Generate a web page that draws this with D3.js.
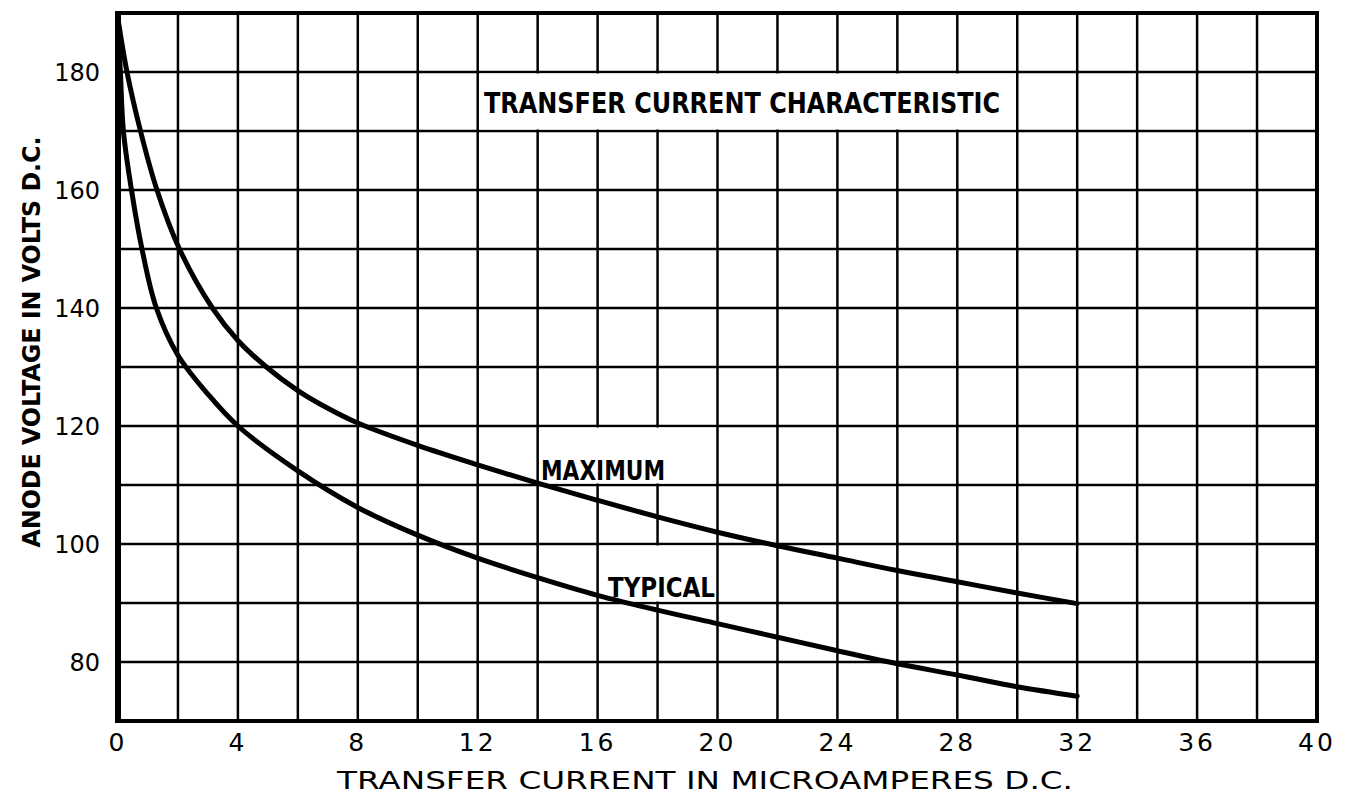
<!DOCTYPE html>
<html>
<head>
<meta charset="utf-8">
<script src="https://cdn.jsdelivr.net/npm/d3@7"></script>
<style>
  body { margin: 0; background: #fff; }
  text { font-family: "DejaVu Sans", "Liberation Sans", sans-serif; fill: #000; }
</style>
</head>
<body>
<div id="chart"></div>
<script>
// transfer current (uA) vs anode voltage (V)
const maxCurrent = [0, 0.3, 0.75, 1.3, 2.05, 3.15, 4, 4.95, 6, 7, 8, 10, 12, 14, 16, 18, 20, 22, 24, 26, 28, 30, 32];
const maxVolts   = [189, 180, 170, 160, 150, 140, 134.5, 130, 126, 123, 120.5, 116.7, 113.4, 110.3, 107.4, 104.6, 102, 99.7, 97.6, 95.5, 93.6, 91.7, 89.9];

const typCurrent = [0, 0.08, 0.18, 0.45, 0.8, 1.28, 2, 3, 4, 6, 8, 10, 12, 14, 16, 18, 20, 22, 24, 26, 28, 30, 32];
const typVolts   = [189, 180, 170, 160, 150, 140, 132, 125.4, 120, 112.4, 106.2, 101.5, 97.6, 94.3, 91.3, 88.8, 86.5, 84.2, 81.9, 79.7, 77.8, 75.8, 74.2];

const xTicks = [0, 4, 8, 12, 16, 20, 24, 28, 32, 36, 40];
const yTicks = [80, 100, 120, 140, 160, 180];

const w = 1358, h = 806;
const padL = 118, padR = 1317, padT = 13, padB = 721;

const svg = d3.select('#chart')
  .append('svg')
  .attr('width', w)
  .attr('height', h);

const x = d3.scaleLinear().domain([0, 40]).range([padL, padR]);
const y = d3.scaleLinear().domain([70, 190]).range([padB, padT]);

// grid
const grid = svg.append('g').attr('stroke', '#000').attr('stroke-width', 2.5);
grid.selectAll('.vx')
  .data(d3.range(2, 40, 2))
  .enter().append('line')
  .attr('x1', d => x(d)).attr('x2', d => x(d))
  .attr('y1', padT).attr('y2', padB);
grid.selectAll('.hy')
  .data(d3.range(80, 190, 10))
  .enter().append('line')
  .attr('x1', padL).attr('x2', padR)
  .attr('y1', d => y(d)).attr('y2', d => y(d));

// white label boxes that break the grid
const boxes = [
  { x0: 12, x1: 30, y0: 170, y1: 180 },
  { x0: 14, x1: 20, y0: 110, y1: 120 },
  { x0: 16, x1: 20, y0: 90, y1: 100 }
];
svg.append('g').selectAll('rect')
  .data(boxes)
  .enter().append('rect')
  .attr('x', d => x(d.x0) + 1.5)
  .attr('y', d => y(d.y1) + 1.5)
  .attr('width', d => x(d.x1) - x(d.x0) - 3)
  .attr('height', d => y(d.y0) - y(d.y1) - 3)
  .attr('fill', '#fff');

// frame
svg.append('rect')
  .attr('x', padL).attr('y', padT)
  .attr('width', padR - padL).attr('height', padB - padT)
  .attr('fill', 'none').attr('stroke', '#000').attr('stroke-width', 4);
svg.append('line')
  .attr('x1', padL).attr('x2', padL)
  .attr('y1', padT - 2).attr('y2', padB + 2)
  .attr('stroke', '#000').attr('stroke-width', 6);

// curves
const line = d3.line()
  .x(d => x(d[0]))
  .y(d => y(d[1]))
  .curve(d3.curveCatmullRom.alpha(0.5));

[[maxCurrent, maxVolts], [typCurrent, typVolts]].forEach(([xs, ys]) => {
  svg.append('path')
    .datum(d3.zip(xs, ys))
    .attr('d', line)
    .attr('fill', 'none')
    .attr('stroke', '#000')
    .attr('stroke-width', 5)
    .attr('stroke-linecap', 'round')
    .attr('stroke-linejoin', 'round');
});

// tick labels
svg.append('g').selectAll('text')
  .data(yTicks)
  .enter().append('text')
  .attr('x', padL - 18)
  .attr('y', d => y(d) + 9)
  .attr('text-anchor', 'end')
  .attr('font-size', 24)
  .text(d => d);

svg.append('g').selectAll('text')
  .data(xTicks)
  .enter().append('text')
  .attr('x', d => x(d))
  .attr('y', padB + 30)
  .attr('text-anchor', 'middle')
  .attr('font-size', 25)
  .attr('letter-spacing', 3)
  .text(d => d);

// axis titles
svg.append('text')
  .attr('x', 705).attr('y', 789)
  .attr('text-anchor', 'middle')
  .attr('font-size', 25)
  .attr('textLength', 736)
  .attr('lengthAdjust', 'spacingAndGlyphs')
  .text('TRANSFER CURRENT IN MICROAMPERES D.C.');

svg.append('text')
  .attr('transform', 'translate(40,342) rotate(-90)')
  .attr('text-anchor', 'middle')
  .attr('font-size', 25)
  .attr('font-weight', 'bold')
  .attr('textLength', 411)
  .attr('lengthAdjust', 'spacingAndGlyphs')
  .text('ANODE VOLTAGE IN VOLTS D.C.');

// labels inside the plot
const labels = [
  { t: 'TRANSFER CURRENT CHARACTERISTIC', x0: 484, base: 113, len: 516, size: 28 },
  { t: 'MAXIMUM', x0: 541, base: 480, len: 124, size: 26 },
  { t: 'TYPICAL', x0: 608, base: 597, len: 107, size: 26 }
];
svg.append('g').selectAll('text')
  .data(labels)
  .enter().append('text')
  .attr('x', d => d.x0)
  .attr('y', d => d.base)
  .attr('font-size', d => d.size)
  .attr('font-weight', 'bold')
  .attr('textLength', d => d.len)
  .attr('lengthAdjust', 'spacingAndGlyphs')
  .text(d => d.t);
</script>
</body>
</html>
